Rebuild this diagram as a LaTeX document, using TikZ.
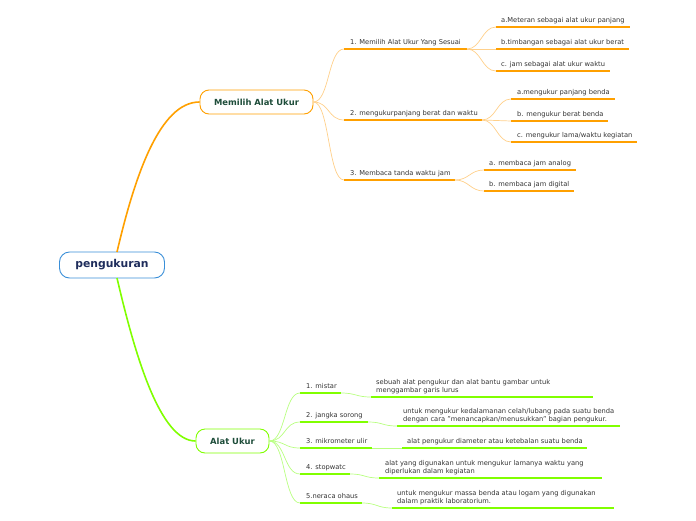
\documentclass[tikz,border=0pt]{standalone}
\usepackage{fontspec}
\setmainfont{DejaVu Sans}
\newcommand\fsmall{\fontsize{6.7}{8}\selectfont}
\newcommand\fmain{\fontsize{8.4}{10}\selectfont\bfseries}
\newcommand\froot{\fontsize{10.8}{12}\selectfont\bfseries}
\definecolor{orng}{HTML}{FFA000}
\definecolor{lorng}{HTML}{FFD08A}
\definecolor{grn}{HTML}{80FF00}
\definecolor{lgrn}{HTML}{B8FF80}
\definecolor{rootblue}{HTML}{3A8FD8}
\definecolor{rootink}{HTML}{1F2D5C}
\definecolor{mainink}{HTML}{1E4D3A}
\definecolor{txt}{HTML}{333333}
\tikzset{
  rootbox/.style={draw=rootblue, line width=0.9pt, rounded corners=10pt, fill=white,
    minimum width=105pt, minimum height=26pt, inner sep=0, font=\froot, text=rootink},
  mainbox/.style={line width=0.9pt, rounded corners=9pt, fill=white,
    minimum height=24pt, inner sep=0, font=\fmain, text=mainink},
  lbl/.style={font=\fsmall, text=txt, inner sep=0, anchor=base west, align=left},
  oul/.style={draw=orng, line width=1.4pt},
  gul/.style={draw=grn, line width=1.4pt},
  oconn/.style={draw=lorng, line width=0.7pt},
  gconn/.style={draw=lgrn, line width=0.7pt},
}
\begin{document}
\begin{tikzpicture}[x=1pt,y=-1pt]
\useasboundingbox (0,0) rectangle (696,520);

% main nodes
\node[rootbox] (root) at (112,265) {pengukuran};
\node[mainbox, draw=orng, minimum width=113pt] (mem) at (256.5,102) {Memilih Alat Ukur};
\node[mainbox, draw=grn, minimum width=73pt] (alat) at (232.5,441) {Alat Ukur};

\coordinate (rt) at (117,252);
\coordinate (rb) at (117,278);
\draw[orng, line width=1.6pt] (rt) .. controls (135,175) and (160,102) .. (mem.west);
\draw[grn, line width=1.6pt] (rb) .. controls (135,355) and (160,441) .. (alat.west);

% ---------- orange side ----------
\coordinate (s1a) at (344,49);  \coordinate (s1b) at (467,49);
\coordinate (s2a) at (344,120); \coordinate (s2b) at (482,120);
\coordinate (s3a) at (344,180); \coordinate (s3b) at (455,180);
\node[lbl] (s1) at (350,44) {1. Memilih Alat Ukur Yang Sesuai};
\node[lbl] (s2) at (350,115) {2. mengukurpanjang berat dan waktu};
\node[lbl] (s3) at (350,175) {3. Membaca tanda waktu jam};
\foreach \i in {1,2,3}{
  \draw[oul] (s\i a) -- (s\i b);
  \draw[oconn] (mem.east) .. controls +(16,0) and +(-16,0) .. (s\i a);
}

% children of 1
\coordinate (c11a) at (496,27); \coordinate (c11b) at (630,27);
\coordinate (c12a) at (496,49); \coordinate (c12b) at (629,49);
\coordinate (c13a) at (496,71); \coordinate (c13b) at (610,71);
\node[lbl] (c11) at (501,22) {a.Meteran sebagai alat ukur panjang};
\node[lbl] (c12) at (501,44) {b.timbangan sebagai alat ukur berat};
\node[lbl] (c13) at (501,66) {c. jam sebagai alat ukur waktu};
% children of 2
\coordinate (c21a) at (511,99);  \coordinate (c21b) at (615,99);
\coordinate (c22a) at (511,121); \coordinate (c22b) at (608,121);
\coordinate (c23a) at (511,142); \coordinate (c23b) at (637,142);
\node[lbl] (c21) at (517,94) {a.mengukur panjang benda};
\node[lbl] (c22) at (517,116) {b. mengukur berat benda};
\node[lbl] (c23) at (517,137) {c. mengukur lama/waktu kegiatan};
% children of 3
\coordinate (c31a) at (484,170); \coordinate (c31b) at (576,170);
\coordinate (c32a) at (484,191); \coordinate (c32b) at (574,191);
\node[lbl] (c31) at (489,165) {a. membaca jam analog};
\node[lbl] (c32) at (489,186) {b. membaca jam digital};

\foreach \p/\k in {1/1,1/2,1/3,2/1,2/2,2/3,3/1,3/2}{
  \draw[oul] (c\p\k a) -- (c\p\k b);
  \draw[oconn] (s\p b) .. controls +(14,0) and +(-14,0) .. (c\p\k a);
}

% ---------- green side ----------
\coordinate (g1a) at (300,393); \coordinate (g1b) at (341,393);
\coordinate (g2a) at (300,422); \coordinate (g2b) at (368,422);
\coordinate (g3a) at (300,448); \coordinate (g3b) at (372,448);
\coordinate (g4a) at (300,474); \coordinate (g4b) at (350,474);
\coordinate (g5a) at (300,503); \coordinate (g5b) at (362,503);
\node[lbl] (g1) at (306,388) {1. mistar};
\node[lbl] (g2) at (306,417) {2. jangka sorong};
\node[lbl] (g3) at (306,443) {3. mikrometer ulir};
\node[lbl] (g4) at (306,469) {4. stopwatc};
\node[lbl] (g5) at (306,498) {5.neraca ohaus};

\coordinate (d1a) at (371,397); \coordinate (d1b) at (593,397);
\coordinate (d2a) at (397,426); \coordinate (d2b) at (620,426);
\coordinate (d3a) at (402,448); \coordinate (d3b) at (587,448);
\coordinate (d4a) at (379,478); \coordinate (d4b) at (602,478);
\coordinate (d5a) at (392,508); \coordinate (d5b) at (614,508);
\node[lbl] (d1) at (376,392) {sebuah alat pengukur dan alat bantu gambar untuk\\menggambar garis lurus};
\node[lbl] (d2) at (403,421) {untuk mengukur kedalamanan celah/lubang pada suatu benda\\dengan cara "menancapkan/menusukkan" bagian pengukur.};
\node[lbl] (d3) at (407,443) {alat pengukur diameter atau ketebalan suatu benda};
\node[lbl] (d4) at (385,473) {alat yang digunakan untuk mengukur lamanya waktu yang\\diperlukan dalam kegiatan};
\node[lbl] (d5) at (397,503) {untuk mengukur massa benda atau logam yang digunakan\\dalam praktik laboratorium.};

\foreach \i in {1,...,5}{
  \draw[gul] (g\i a) -- (g\i b);
  \draw[gconn] (alat.east) .. controls +(16,0) and +(-16,0) .. (g\i a);
  \draw[gul] (d\i a) -- (d\i b);
  \draw[gconn] (g\i b) .. controls +(15,0) and +(-15,0) .. (d\i a);
}
\end{tikzpicture}
\end{document}
